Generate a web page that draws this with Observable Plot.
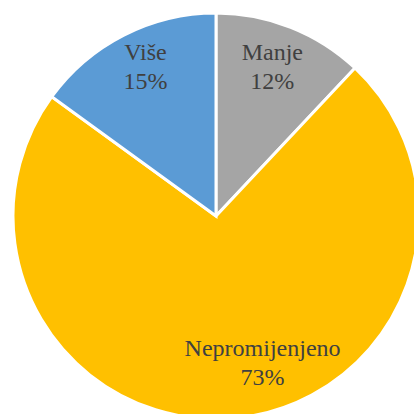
<!DOCTYPE html>
<html>
<head>
<meta charset="utf-8">
<script src="https://cdn.jsdelivr.net/npm/d3@7"></script>
<script src="https://cdn.jsdelivr.net/npm/@observablehq/plot@0.6"></script>
<style>
  html, body { margin: 0; padding: 0; background: #fff; overflow: hidden; width: 414px; height: 414px; }
  #chart svg { overflow: visible; }
</style>
</head>
<body>
<div id="chart"></div>
<script>
// Data
const categories = ["Manje", "Nepromijenjeno", "Više"];
const values = [12, 73, 15];
const colors = ["#A5A5A5", "#FFC000", "#5B9BD5"];

// Layout constants (label anchor points in unit-circle coordinates)
const labelAt = [[0.275, 0.745], [0.227, -0.715], [-0.35, 0.745]];

const total = d3.sum(values);
const pie = d3.pie().sort(null).value(d => d)(values);
const slices = categories.map((c, i) => ({
  category: c, value: values[i], color: colors[i],
  start: pie[i].startAngle, end: pie[i].endAngle,
  lx: labelAt[i][0], ly: labelAt[i][1],
  label: c + "\n" + Math.round(values[i] / total * 100) + "%"
}));

function pieMark(index, scales) {
  const cx = scales.x(0), cy = scales.y(0);
  const r = scales.x(1) - scales.x(0);
  const arc = d3.arc().innerRadius(0).outerRadius(r);
  const g = d3.create("svg:g").attr("transform", `translate(${cx},${cy})`);
  g.selectAll("path").data(slices).join("path")
    .attr("d", d => arc({startAngle: d.start, endAngle: d.end}))
    .attr("fill", d => d.color)
    .attr("stroke", "#fff")
    .attr("stroke-width", 3)
    .attr("stroke-linejoin", "miter");
  return g.node();
}

const chart = Plot.plot({
  width: 414,
  height: 414,
  margin: 0,
  style: {background: "transparent", overflow: "visible"},
  x: {domain: [-1, 1], range: [13, 419], axis: null},
  y: {domain: [-1, 1], range: [419, 13], axis: null},
  marks: [
    pieMark,
    Plot.text(slices, {
      x: "lx", y: "ly", text: "label",
      fontFamily: "'Liberation Serif', 'Times New Roman', serif",
      fontSize: 24,
      lineHeight: 1.2,
      fill: "#404040"
    })
  ]
});
document.getElementById("chart").appendChild(chart);
</script>
</body>
</html>
